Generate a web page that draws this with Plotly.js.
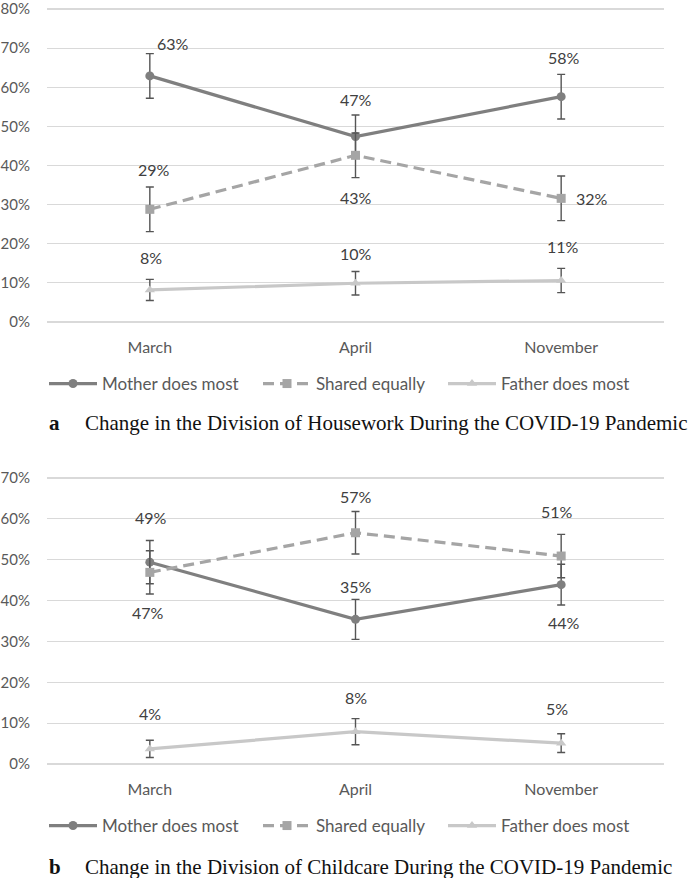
<!DOCTYPE html>
<html>
<head>
<meta charset="utf-8">
<script src="https://cdn.plot.ly/plotly-3.0.1.min.js"></script>
<style>html,body{margin:0;padding:0;background:#fff;}#chart{width:690px;height:878px;}</style>
</head>
<body>
<div id="chart"></div>
<script>
// ---- data ----
const months = ['March', 'April', 'November'];
const seriesNames = ['Mother does most', 'Shared equally', 'Father does most'];

// Panel a: Housework
const houseMother = [62.9, 47.4, 57.6];
const houseShared = [28.8, 42.6, 31.6];
const houseFather = [8.2, 9.9, 10.6];
const houseMotherErr = [5.7, 5.5, 5.7];
const houseSharedErr = [5.7, 5.7, 5.7];
const houseFatherErr = [2.7, 3.0, 3.1];

// Panel b: Childcare
const childMother = [49.4, 35.4, 43.9];
const childShared = [46.9, 56.6, 50.9];
const childFather = [3.7, 7.9, 5.1];
const childMotherErr = [5.3, 4.9, 5.0];
const childSharedErr = [5.3, 5.2, 5.3];
const childFatherErr = [2.1, 3.2, 2.3];

const yTicksA = [0, 10, 20, 30, 40, 50, 60, 70, 80];
const yTicksB = [0, 10, 20, 30, 40, 50, 60, 70];

const captionA = 'Change in the Division of Housework During the COVID-19 Pandemic';
const captionB = 'Change in the Division of Childcare During the COVID-19 Pandemic';

// ---- styles ----
const colors = ['#7f7f7f', '#a5a5a5', '#c8c8c8'];
const symbols = ['circle', 'square', 'triangle-up'];
const dashes = ['solid', '11px,6px', 'solid'];
const errColor = '#555555';
const sans = 'Lato, "Open Sans", sans-serif';
const labelColor = '#404040';
const legendX = [44, 258, 443];   // px left edge of each legend entry

// label pixel offsets [xshift, yshift] per series per month
const offsA = [
  [[23, 32], [0, 37], [3, 39]],
  [[4, 40], [0, -42], [31, 0]],
  [[1, 32], [0, 30], [2, 34]]
];
const offsB = [
  [[1, 45], [0, 33], [3, -38]],
  [[-2, -40], [0, 36], [-4, 45]],
  [[0, 35], [0, 34], [-4, 35]]
];

function makeTraces(vals, errs, xa, ya, legendBaseIdx) {
  return vals.map((v, i) => {
    const idx = legendBaseIdx + i;
    return {
      type: 'scatter', mode: 'lines+markers',
      x: months, y: v, name: seriesNames[i],
      xaxis: xa, yaxis: ya, legend: idx === 1 ? 'legend' : 'legend' + idx,
      line: {color: colors[i], width: 3.2, dash: dashes[i]},
      marker: {color: colors[i], symbol: symbols[i], size: 9},
      error_y: {type: 'data', array: errs[i], visible: true, color: errColor, thickness: 1.4, width: 4},
      cliponaxis: false,
      hoverinfo: 'skip'
    };
  });
}

function makeLabels(vals, offs, xr, yr) {
  const out = [];
  vals.forEach((v, i) => {
    v.forEach((val, j) => {
      out.push({
        x: months[j], y: val, xref: xr, yref: yr,
        text: Math.round(val) + '%', showarrow: false,
        xshift: offs[i][j][0], yshift: offs[i][j][1],
        font: {family: sans, size: 16, color: labelColor}
      });
    });
  });
  return out;
}

const traces = [
  ...makeTraces([houseMother, houseShared, houseFather], [houseMotherErr, houseSharedErr, houseFatherErr], 'x', 'y', 1),
  ...makeTraces([childMother, childShared, childFather], [childMotherErr, childSharedErr, childFatherErr], 'x2', 'y2', 4)
];

const H = 878, W = 690;
const xDom = [47 / W, 664 / W];
const axisFont = {family: sans, size: 16, color: '#595959'};
const yTickFont = {family: sans, size: 15, color: '#595959'};
const PAD = 0.5; // range padding (data units) so end gridlines are kept

// pixel rows of the top and bottom gridlines -> domain with padding
function yDomain(topPx, botPx, top) {
  const ppu = (botPx - topPx) / top;
  return [1 - (botPx + PAD * ppu) / H, 1 - (topPx - PAD * ppu) / H];
}

function yAxis(ticks, top, dom) {
  return {
    domain: dom, range: [-PAD, top + PAD], tickvals: ticks,
    ticktext: ticks.map(t => t + '%'),
    showgrid: true, gridcolor: '#d9d9d9', gridwidth: 1.2,
    zeroline: false, showline: false, ticks: '',
    tickfont: yTickFont, ticklabelstandoff: 16, ticklabeloverflow: 'allow',
    fixedrange: true
  };
}
function xAxis(anchor) {
  return {
    domain: xDom, range: [-0.5, 2.5], type: 'category',
    showgrid: false, zeroline: false, showline: false, ticks: '',
    tickfont: axisFont, anchor: anchor, ticklabelstandoff: 12, fixedrange: true
  };
}

const legendBase = {
  orientation: 'h', xanchor: 'left', yanchor: 'middle',
  font: {family: sans, size: 17, color: '#595959'},
  bgcolor: 'rgba(0,0,0,0)', itemclick: false, itemdoubleclick: false,
  tracegroupgap: 0, itemwidth: 48
};

const captionFont = {family: '"Liberation Serif", "Times New Roman", serif', size: 21, color: '#111111'};

const layout = {
  width: W, height: H,
  margin: {l: 0, r: 0, t: 0, b: 0},
  paper_bgcolor: '#ffffff', plot_bgcolor: '#ffffff',
  showlegend: true,
  xaxis: xAxis('y'),
  yaxis: yAxis(yTicksA, 80, yDomain(9, 322, 80)),
  xaxis2: xAxis('y2'),
  yaxis2: yAxis(yTicksB, 70, yDomain(478, 764, 70)),
  annotations: [
    ...makeLabels([houseMother, houseShared, houseFather], offsA, 'x', 'y'),
    ...makeLabels([childMother, childShared, childFather], offsB, 'x2', 'y2'),
    {text: '<b>a</b>', x: 47 / W, y: 1 - 423 / H, xref: 'paper', yref: 'paper', xanchor: 'left', yanchor: 'middle', showarrow: false, font: captionFont},
    {text: captionA, x: 83 / W, y: 1 - 423 / H, xref: 'paper', yref: 'paper', xanchor: 'left', yanchor: 'middle', showarrow: false, font: captionFont},
    {text: '<b>b</b>', x: 47 / W, y: 1 - 867 / H, xref: 'paper', yref: 'paper', xanchor: 'left', yanchor: 'middle', showarrow: false, font: captionFont},
    {text: captionB, x: 83 / W, y: 1 - 867 / H, xref: 'paper', yref: 'paper', xanchor: 'left', yanchor: 'middle', showarrow: false, font: captionFont}
  ]
};

// six single-entry legends (three per panel)
const legendYs = [384, 826];
for (let p = 0; p < 2; p++) {
  for (let i = 0; i < 3; i++) {
    const idx = p * 3 + i + 1;
    const key = idx === 1 ? 'legend' : 'legend' + idx;
    layout[key] = Object.assign({}, legendBase, {x: legendX[i] / W, y: 1 - legendYs[p] / H});
  }
}

Plotly.newPlot('chart', traces, layout, {displayModeBar: false, staticPlot: true});
</script>
</body>
</html>
